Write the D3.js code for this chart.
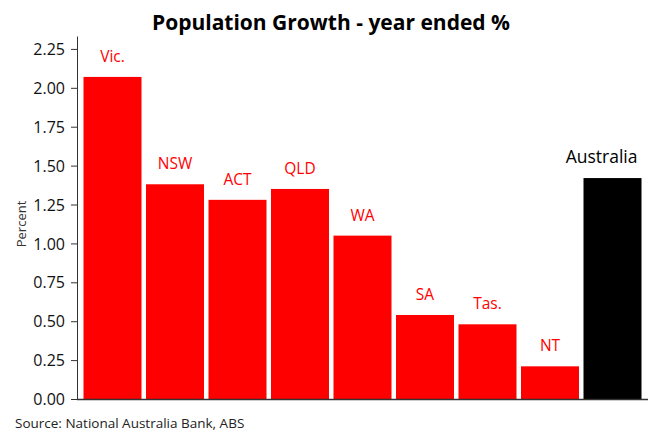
<!DOCTYPE html>
<html>
<head>
<meta charset="utf-8">
<script src="https://cdn.jsdelivr.net/npm/d3@7"></script>
<style>
  body { margin: 0; background: #fff; }
  text { font-family: "Open Sans", "Noto Sans", sans-serif; }
</style>
</head>
<body>
<div id="chart"></div>
<script>
var width = 655,
    height = 432;

// data
var states = ["Vic.", "NSW", "ACT", "QLD", "WA", "SA", "Tas.", "NT", "Australia"];
var growth = [2.07, 1.38, 1.28, 1.35, 1.05, 0.54, 0.48, 0.21, 1.42];
var barColors = ["red", "red", "red", "red", "red", "red", "red", "red", "black"];
var yTicks = [0, 0.25, 0.5, 0.75, 1, 1.25, 1.5, 1.75, 2, 2.25];

var svg = d3.select("#chart")
    .append("svg")
    .attr("width", width)
    .attr("height", height);

var x = d3.scaleBand()
    .domain(states)
    .range([77, 648])
    .paddingInner(0.072)
    .paddingOuter(0.104);

var y = d3.scaleLinear()
    .domain([0, 2.333])
    .range([399, 36]);

// bars
svg.selectAll("rect.bar")
    .data(states)
    .enter()
    .append("rect")
    .attr("class", "bar")
    .attr("x", function (d) { return x(d); })
    .attr("y", function (d, i) { return y(growth[i]); })
    .attr("width", x.bandwidth())
    .attr("height", function (d, i) { return y(0) - y(growth[i]); })
    .style("fill", function (d, i) { return barColors[i]; });

// bar labels (the Australia one sits right-aligned inside its band)
svg.selectAll("text.barlabel")
    .data(states)
    .enter()
    .append("text")
    .attr("class", "barlabel")
    .attr("x", function (d, i) { return i == 8 ? x(d) + x.bandwidth() - 4 : x(d) + x.bandwidth() / 2; })
    .attr("y", function (d, i) { return y(growth[i]) - 15; })
    .style("text-anchor", function (d, i) { return i == 8 ? "end" : "middle"; })
    .style("font-size", function (d, i) { return i == 8 ? "17.5px" : "15.5px"; })
    .style("fill", function (d, i) { return barColors[i]; })
    .text(function (d) { return d; });

// y axis
var yAxis = svg.append("g")
    .attr("transform", "translate(77,0)")
    .call(d3.axisLeft(y)
        .tickValues(yTicks)
        .tickFormat(d3.format(".2f"))
        .tickSize(6)
        .tickSizeOuter(0));

yAxis.select(".domain").style("stroke", "#333");
yAxis.selectAll(".tick line").style("stroke", "#333");
yAxis.selectAll(".tick text")
    .style("font-size", "16px")
    .style("fill", "#111")
    .attr("x", -12)
    .attr("dy", "0.35em");

// x axis line
svg.append("line")
    .attr("x1", 77)
    .attr("x2", 648)
    .attr("y1", y(0) + 0.5)
    .attr("y2", y(0) + 0.5)
    .style("stroke", "#333")
    .style("stroke-width", 1.5);

// title
svg.append("text")
    .attr("x", 331)
    .attr("y", 30)
    .style("text-anchor", "middle")
    .style("font-size", "21px")
    .style("font-weight", "bold")
    .text("Population Growth - year ended %");

// y label
svg.append("text")
    .attr("transform", "translate(26,224) rotate(-90)")
    .style("text-anchor", "middle")
    .style("font-size", "13px")
    .style("fill", "#333")
    .text("Percent");

// source
svg.append("text")
    .attr("x", 15)
    .attr("y", 428)
    .style("font-size", "13.5px")
    .style("fill", "#222")
    .text("Source: National Australia Bank, ABS");
</script>
</body>
</html>
